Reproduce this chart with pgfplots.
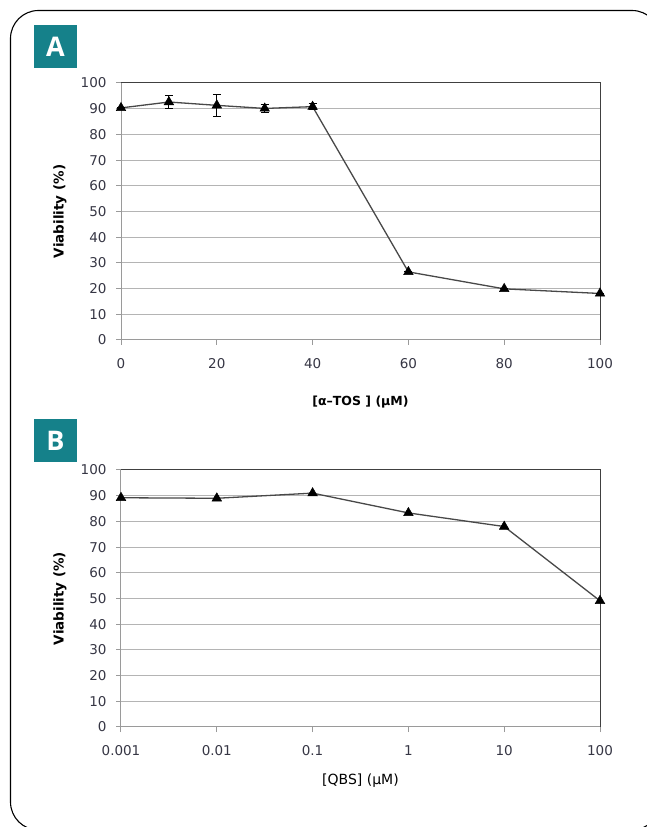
\documentclass[border=0pt]{standalone}
\usepackage{pgfplots}
\pgfplotsset{compat=1.18}
\usepackage{fontspec}
\setmainfont{DejaVu Sans}
\newfontfamily\boxfont{Open Sans}
\definecolor{teal1}{HTML}{15818A}
\definecolor{gridgray}{HTML}{B4B4B4}
\definecolor{axgray}{HTML}{9A9A9A}
\definecolor{linegray}{HTML}{484848}
\definecolor{ticktext}{HTML}{363644}
\pgfplotsset{
  panel/.style={
    scale only axis, anchor=south west,
    width=479pt, height=257pt,
    ymin=0, ymax=100, ytick={0,10,...,100},
    ymajorgrids, grid style={gridgray, line width=1pt},
    axis line style={axgray, line width=1pt},
    tick align=outside, major tick length=5pt,
    tick style={axgray, line width=1pt},
    xtick pos=bottom, ytick pos=left,
    /pgf/number format/assume math mode=true,
    ticklabel style={font=\fontsize{13.5}{15}\selectfont, text=ticktext},
    xticklabel style={yshift=-10pt},
    yticklabel style={xshift=-6pt},
    clip=false,
  },
  series/.style={linegray, line width=1.3pt, mark=triangle*, mark size=5.5pt,
    mark options={black, fill=black, solid, line width=0.5pt}},
}
\begin{document}
\begin{tikzpicture}[x=1pt,y=1pt]
\path[use as bounding box] (0pt,0pt) rectangle (647pt,827pt);
\begin{scope}
\clip (0pt,0pt) rectangle (647pt,827pt);
\draw[line width=1.1pt, rounded corners=28pt] (10.5pt,816.5pt) rectangle (660pt,-3pt);
\end{scope}
\fill[teal1] (34pt,759pt) rectangle (77pt,802pt);
\node[text=white, font=\boxfont\bfseries\fontsize{27}{27}\selectfont] at (55.5pt,780.5pt) {A};
\fill[teal1] (34pt,365pt) rectangle (77pt,408pt);
\node[text=white, font=\boxfont\bfseries\fontsize{27}{27}\selectfont] at (55.5pt,386.5pt) {B};

\begin{axis}[panel, at={(121pt,487pt)},
  xmin=0, xmax=100, xtick={0,20,40,60,80,100}]
\addplot+[series, error bars/.cd, y dir=both, y explicit,
  error bar style={black, line width=1pt},
  error mark options={rotate=90, mark size=4pt, black, line width=1pt}]
  coordinates {
  (0,90.3) +- (0,0)
  (10,92.6) +- (0,2.5)
  (20,91.3) +- (0,4.3)
  (30,90.1) +- (0,1.5)
  (40,90.8) +- (0,1.3)
  (60,26.5) +- (0,0)
  (80,19.9) +- (0,0)
  (100,18.1) +- (0,0)
};
\draw[black!75, line width=1pt] (rel axis cs:0,1) -- (rel axis cs:1,1) -- (rel axis cs:1,0);
\node[rotate=90, font=\bfseries\fontsize{13.5}{15}\selectfont] at ([xshift=-61pt]rel axis cs:0,0.5) {Viability (\%)};
\node[font=\bfseries\fontsize{12.5}{14}\selectfont] at ([yshift=-62pt]rel axis cs:0.5,0) {[α–TOS ] (μM)};
\end{axis}

\begin{axis}[panel, at={(121pt,100pt)},
  xmode=log, log basis x=10, xmin=0.001, xmax=100,
  xtick={0.001,0.01,0.1,1,10,100},
  xticklabels={0.001,0.01,0.1,1,10,100},
  minor xtick={}]
\addplot+[series] coordinates {
  (0.001,89.2) (0.01,89.0) (0.1,91.0) (1,83.3) (10,78.0) (100,49.1)
};
\draw[black!75, line width=1pt] (rel axis cs:0,1) -- (rel axis cs:1,1) -- (rel axis cs:1,0);
\node[rotate=90, font=\bfseries\fontsize{13.5}{15}\selectfont] at ([xshift=-61pt]rel axis cs:0,0.5) {Viability (\%)};
\node[font=\fontsize{14}{16}\selectfont] at ([yshift=-54pt]rel axis cs:0.5,0) {[QBS] (μM)};
\end{axis}
\end{tikzpicture}
\end{document}
